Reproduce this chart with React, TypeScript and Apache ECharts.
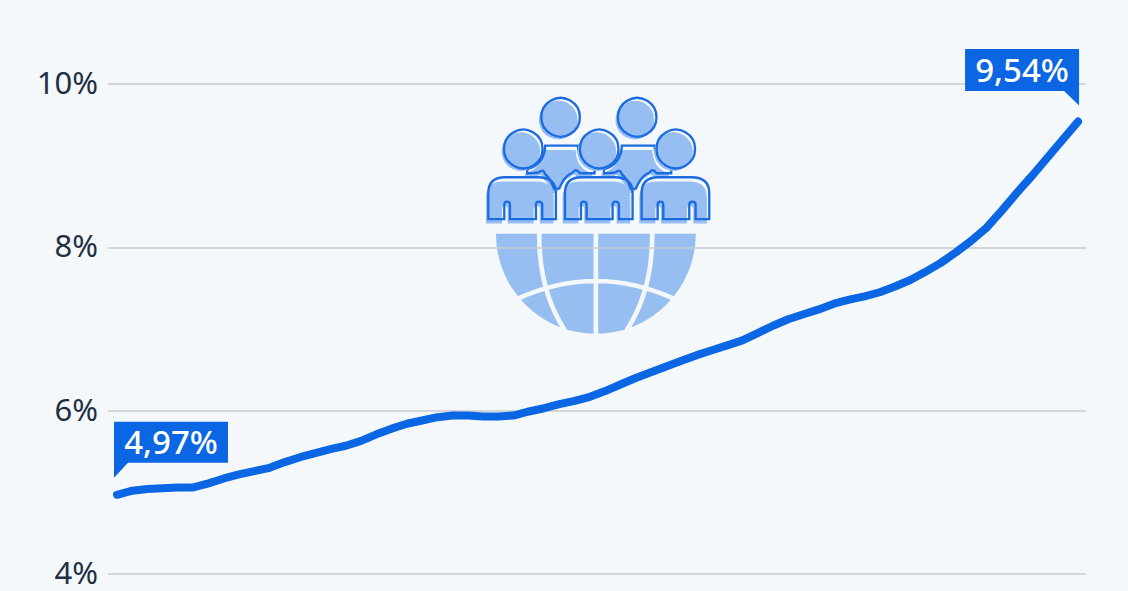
import React, { useEffect, useRef } from "react";
import * as echarts from "echarts";

const years = [
  1960, 1961, 1962, 1963, 1964, 1965, 1966, 1967, 1968, 1969, 1970, 1971, 1972, 1973, 1974, 1975,
  1976, 1977, 1978, 1979, 1980, 1981, 1982, 1983, 1984, 1985, 1986, 1987, 1988, 1989, 1990, 1991,
  1992, 1993, 1994, 1995, 1996, 1997, 1998, 1999, 2000, 2001, 2002, 2003, 2004, 2005, 2006, 2007,
  2008, 2009, 2010, 2011, 2012, 2013, 2014, 2015, 2016, 2017, 2018, 2019, 2020, 2021, 2022, 2023,
];
const shares = [
  4.97, 5.02, 5.04, 5.05, 5.06, 5.06, 5.11, 5.17, 5.22, 5.26, 5.3, 5.37, 5.43, 5.48, 5.53, 5.57,
  5.63, 5.71, 5.78, 5.84, 5.88, 5.92, 5.94, 5.94, 5.93, 5.93, 5.94, 5.99, 6.03, 6.08, 6.12, 6.17,
  6.24, 6.32, 6.4, 6.47, 6.54, 6.61, 6.68, 6.74, 6.8, 6.86, 6.95, 7.04, 7.12, 7.18, 7.24, 7.31,
  7.36, 7.4, 7.45, 7.52, 7.6, 7.7, 7.81, 7.94, 8.08, 8.24, 8.45, 8.67, 8.88, 9.1, 9.32, 9.54,
];
const yTicks = [4, 6, 8, 10];
const calloutYears = [1960, 2023];
const calloutValues = [4.97, 9.54];
const calloutLabels = ["4,97%", "9,54%"];

const BG = "#f5f8fb";
const BLUE = "#0b66e4";
const ICON_FILL = "#96bef3";
const OUTLINE = "#1a6ce0";

const BODY =
  "M55 388 V310 Q55 262 105 262 H205 Q258 262 258 310 V388 H217 V345 Q217 335 207 335 Q198 335 198 345 V388 H120 V345 Q120 335 111 335 Q103 335 103 345 V388 Z";
const BACK =
  "M226 167 H324 Q326 222 374 238 V250 H330 Q322 238 314 242 Q308 250 300 252 Q282 262 268 296 H252 Q240 262 225 252 Q222 238 212 244 Q208 250 172 250 V238 Q224 222 226 167 Z";
const GLOBE = "M78 432 H678 A300 300 0 0 1 78 432 Z";
const GAPS =
  "M208 425 Q205 600 285 722 M547 425 Q550 600 470 722 M378 425 V736 M140 628 Q378 519 615 628";

echarts.graphic.registerShape("iconBody", echarts.graphic.extendPath(BODY, {}));
echarts.graphic.registerShape("iconBack", echarts.graphic.extendPath(BACK, {}));
echarts.graphic.registerShape("iconGlobe", echarts.graphic.extendPath(GLOBE, {}));
echarts.graphic.registerShape("iconGaps", echarts.graphic.extendPath(GAPS, {}));

function person(kind: string, bx: number, hx: number, hy: number) {
  const stroke = { fill: "none", stroke: OUTLINE, lineWidth: 7 };
  return [
    { type: kind, x: bx - 7, y: 13, style: { fill: ICON_FILL } },
    { type: kind, x: bx, y: 0, style: stroke },
    { type: "circle", shape: { cx: hx - 7, cy: hy + 8, r: 58 }, style: { fill: ICON_FILL } },
    { type: "circle", shape: { cx: hx, cy: hy, r: 58 }, style: stroke },
  ];
}

function iconChildren() {
  return [
    ...person("iconBack", 0, 272, 82),
    ...person("iconBack", 230, 502, 82),
    ...person("iconBody", 0, 160, 177),
    ...person("iconBody", 230, 388, 177),
    ...person("iconBody", 460, 618, 177),
    { type: "iconGlobe", style: { fill: BLUE, opacity: 0.4 } },
    { type: "iconGaps", style: { fill: "none", stroke: BG, lineWidth: 14 } },
  ];
}

function renderCallout(params: any, api: any) {
  const [px, py] = api.coord([api.value(0), api.value(1)]);
  const first = params.dataIndex === 0;
  const left = first ? px - 3 : px - 113;
  const top = first ? py - 73 : py - 72.5;
  const pts = first
    ? [[left, top], [left + 114, top], [left + 114, top + 41], [left + 14, top + 41], [left, top + 56]]
    : [[left, top], [left + 114, top], [left + 114, top + 56.5], [left + 99, top + 42], [left, top + 42]];
  return {
    type: "group",
    children: [
      { type: "polygon", shape: { points: pts }, style: { fill: BLUE } },
      {
        type: "text",
        x: left + 57,
        y: top + 20,
        style: {
          text: calloutLabels[params.dataIndex],
          fill: "#ffffff",
          font: '500 33px "Noto Sans"',
          align: "center",
          verticalAlign: "middle",
        },
      },
    ],
  };
}

export default function App() {
  const ref = useRef<HTMLDivElement>(null);
  useEffect(() => {
    const chart = echarts.init(ref.current!, null, { renderer: "svg" });
    chart.setOption({
      animation: false,
      backgroundColor: BG,
      grid: { left: 108, right: 42, top: 84, height: 490 },
      xAxis: {
        type: "value",
        min: 1959.41,
        max: 2023.52,
        show: false,
        splitLine: { show: false },
      },
      yAxis: {
        type: "value",
        min: yTicks[0],
        max: yTicks[yTicks.length - 1],
        interval: 2,
        axisLine: { show: false },
        axisTick: { show: false },
        axisLabel: {
          formatter: "{value}%",
          margin: 10,
          fontFamily: "Noto Sans",
          fontSize: 31,
          lineHeight: 4,
          verticalAlign: "bottom",
          color: "#1f3044",
        },
        splitLine: { lineStyle: { color: "#c8cccf", width: 1.5 } },
      },
      graphic: [
        {
          type: "group",
          x: 470,
          y: 90,
          scaleX: 1 / 3,
          scaleY: 1 / 3,
          silent: true,
          children: iconChildren(),
        },
      ],
      series: [
        {
          type: "line",
          data: years.map((y, i) => [y, shares[i]]),
          showSymbol: false,
          smooth: false,
          lineStyle: { color: BLUE, width: 8, cap: "round", join: "round" },
          z: 3,
        },
        {
          type: "custom",
          clip: false,
          coordinateSystem: "cartesian2d",
          data: calloutYears.map((y, i) => [y, calloutValues[i]]),
          renderItem: renderCallout,
          z: 4,
        },
      ],
    });
    return () => chart.dispose();
  }, []);
  return (
    <div
      ref={ref}
      style={{ position: "absolute", left: 0, top: 0, width: 1128, height: 591 }}
    />
  );
}
